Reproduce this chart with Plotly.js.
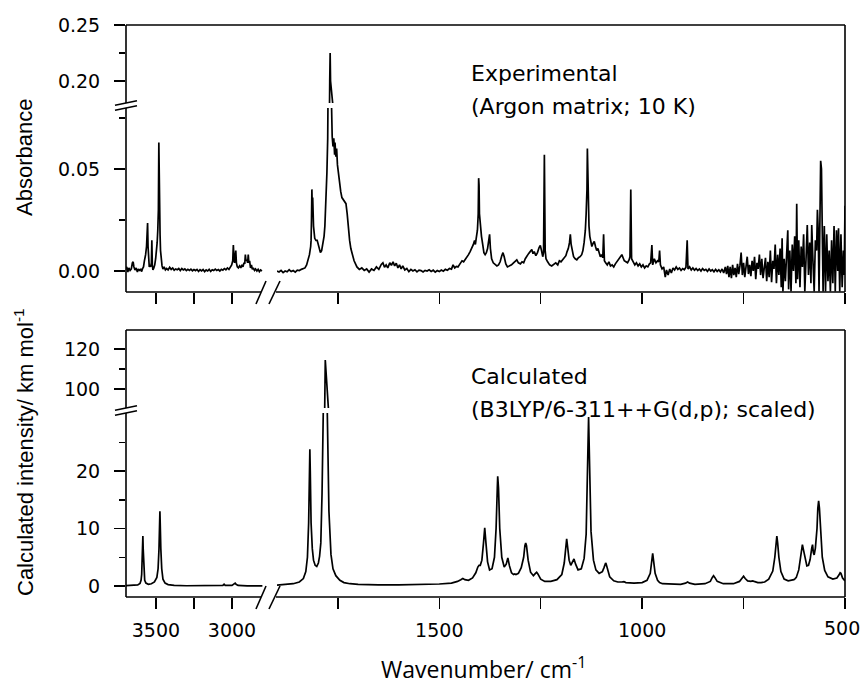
<!DOCTYPE html>
<html>
<head>
<meta charset="utf-8">
<script src="https://cdn.plot.ly/plotly-3.0.1.min.js"></script>
<style>html,body{margin:0;padding:0;background:#fff;}#plot{width:861px;height:686px;}</style>
</head>
<body>
<div id="plot"></div>
<script>
// ---------- DATA (wavenumber, value) ----------
const expLeftPts = [
[3700,0.0010],[3692,0.0020],[3685,-0.0005],[3678,0.0015],[3670,0.0003],[3662,0.0010],[3655,0.0040],[3650,0.0045],
[3645,0.0020],[3638,0.0005],[3630,0.0015],[3622,-0.0005],[3615,0.0010],[3608,0.0003],[3600,0.0008],[3594,-0.0003],
[3588,0.0012],[3582,0.0020],[3576,0.0050],[3572,0.0060],[3568,0.0080],[3562,0.0120],[3558,0.0180],[3555,0.0235],
[3552,0.0120],[3548,0.0040],[3544,0.0020],[3540,0.0030],[3535,0.0020],[3530,0.0040],[3527,0.0150],[3524,0.0030],
[3520,0.0005],[3514,0.0015],[3508,0.0030],[3502,0.0060],[3496,0.0100],[3492,0.0140],[3488,0.0200],[3484,0.0300],
[3481,0.0630],[3479,0.0350],[3476,0.0260],[3473,0.0180],[3470,0.0100],[3466,0.0050],[3460,0.0025],[3454,0.0010],
[3446,0.0020],[3438,0.0005],[3430,0.0012],[3420,0.0005],[3410,0.0018],[3400,0.0008],[3390,0.0015],[3380,0.0004],
[3370,0.0010],[3360,0.0006],[3350,0.0012],[3340,0.0002],[3330,0.0012],[3320,0.0005],[3310,0.0010],[3300,0.0002],
[3290,0.0008],[3280,0.0003],[3270,0.0009],[3260,0.0001],[3250,0.0007],[3240,0.0002],[3230,0.0008],[3220,-0.0002],
[3210,0.0006],[3200,0.0000],[3190,0.0007],[3180,-0.0003],[3170,0.0005],[3160,0.0000],[3150,0.0008],[3140,-0.0002],
[3130,0.0006],[3120,0.0002],[3110,0.0009],[3100,0.0003],[3090,0.0007],[3080,0.0000],[3070,0.0008],[3060,0.0004],
[3050,0.0012],[3040,0.0006],[3030,0.0015],[3020,0.0008],[3010,0.0020],[3002,0.0030],[2995,0.0050],[2991,0.0127],
[2987,0.0060],[2983,0.0040],[2978,0.0080],[2975,0.0100],[2971,0.0040],[2965,0.0020],[2958,0.0015],[2950,0.0025],
[2942,0.0015],[2935,0.0030],[2928,0.0020],[2921,0.0040],[2916,0.0035],[2912,0.0080],[2908,0.0050],[2902,0.0055],
[2897,0.0040],[2893,0.0080],[2889,0.0040],[2884,0.0050],[2878,0.0015],[2872,0.0030],[2866,0.0008],[2860,0.0015],
[2852,0.0003],[2845,0.0010],[2836,0.0000],[2828,0.0008],[2820,-0.0003],[2812,0.0005],[2803,0.0000]
];
const expRightPts = [
[1900,0.0000],[1895,-0.0005],[1890,0.0003],[1885,-0.0008],[1880,0.0000],[1875,-0.0004],[1870,0.0006],[1865,-0.0003],
[1860,0.0002],[1855,-0.0006],[1850,0.0004],[1845,0.0002],[1840,0.0008],[1835,0.0012],[1831,0.0015],[1827,0.0030],
[1824,0.0050],[1820,0.0080],[1817,0.0120],[1816,0.0150],[1815,0.0250],[1814,0.0400],[1813,0.0300],[1812,0.0360],
[1810,0.0220],[1807,0.0160],[1804,0.0150],[1801,0.0150],[1797,0.0120],[1793,0.0090],[1790,0.0100],[1787,0.0130],
[1784,0.0170],[1782,0.0220],[1780,0.0300],[1778,0.0400],[1777,0.0480],[1775,0.0650],[1774,0.0780],[1773,0.0850],
[1771,0.1600],[1770,0.2000],[1769,0.2250],[1768,0.2000],[1767,0.1500],[1766,0.0850],[1765,0.0700],[1764,0.0660],
[1762,0.0610],[1760,0.0650],[1758,0.0570],[1757,0.0630],[1755,0.0560],[1753,0.0600],[1751,0.0520],[1749,0.0480],
[1746,0.0440],[1743,0.0390],[1740,0.0360],[1737,0.0350],[1734,0.0340],[1730,0.0330],[1727,0.0280],[1725,0.0220],
[1721,0.0150],[1718,0.0110],[1715,0.0090],[1710,0.0050],[1703,0.0020],[1697,0.0008],[1691,0.0015],[1685,0.0003],
[1679,0.0010],[1673,-0.0005],[1667,0.0010],[1661,0.0003],[1655,0.0020],[1649,0.0008],[1643,0.0032],[1639,0.0040],
[1635,0.0018],[1631,0.0030],[1627,0.0015],[1622,0.0040],[1618,0.0028],[1614,0.0045],[1610,0.0025],[1606,0.0038],
[1602,0.0015],[1598,0.0030],[1594,0.0010],[1590,0.0025],[1585,0.0005],[1580,0.0012],[1575,-0.0003],[1570,0.0008],
[1565,0.0000],[1560,0.0006],[1555,-0.0004],[1550,0.0004],[1545,0.0002],[1540,-0.0005],[1535,0.0003],[1530,0.0000],
[1525,0.0006],[1520,-0.0002],[1515,0.0004],[1510,-0.0006],[1505,0.0002],[1500,-0.0003],[1495,0.0005],[1490,-0.0001],
[1485,0.0008],[1480,0.0004],[1475,0.0012],[1470,0.0009],[1466,0.0030],[1462,0.0015],[1458,0.0022],[1454,0.0020],
[1449,0.0035],[1444,0.0050],[1440,0.0045],[1434,0.0060],[1428,0.0080],[1424,0.0095],[1420,0.0110],[1416,0.0130],
[1413,0.0150],[1411,0.0130],[1409,0.0160],[1406,0.0200],[1404,0.0280],[1403,0.0455],[1402,0.0420],[1401,0.0280],
[1400,0.0250],[1398,0.0190],[1396,0.0170],[1393,0.0130],[1390,0.0090],[1387,0.0080],[1384,0.0090],[1381,0.0110],
[1378,0.0150],[1376,0.0180],[1374,0.0110],[1371,0.0060],[1367,0.0040],[1362,0.0030],[1358,0.0025],[1354,0.0030],
[1350,0.0045],[1346,0.0075],[1343,0.0090],[1340,0.0070],[1336,0.0035],[1332,0.0020],[1327,0.0025],[1322,0.0030],
[1317,0.0040],[1312,0.0050],[1309,0.0055],[1305,0.0040],[1300,0.0035],[1296,0.0045],[1292,0.0040],[1288,0.0060],
[1284,0.0075],[1280,0.0085],[1276,0.0095],[1272,0.0105],[1269,0.0085],[1266,0.0095],[1262,0.0075],[1258,0.0090],
[1254,0.0115],[1251,0.0125],[1248,0.0100],[1245,0.0070],[1243,0.0090],[1241,0.0570],[1239,0.0100],[1237,0.0060],
[1233,0.0045],[1228,0.0030],[1223,0.0025],[1218,0.0035],[1213,0.0040],[1208,0.0030],[1204,0.0050],[1200,0.0045],
[1196,0.0055],[1192,0.0060],[1188,0.0075],[1185,0.0095],[1182,0.0110],[1179,0.0140],[1177,0.0180],[1175,0.0130],
[1172,0.0090],[1169,0.0070],[1165,0.0060],[1161,0.0055],[1157,0.0065],[1153,0.0070],[1149,0.0080],[1146,0.0100],
[1143,0.0140],[1140,0.0200],[1138,0.0280],[1136,0.0400],[1135,0.0600],[1134,0.0500],[1133,0.0300],[1131,0.0220],
[1129,0.0170],[1127,0.0140],[1124,0.0120],[1121,0.0135],[1118,0.0145],[1115,0.0120],[1112,0.0100],[1109,0.0110],
[1106,0.0085],[1103,0.0070],[1100,0.0080],[1097,0.0065],[1095,0.0180],[1093,0.0050],[1090,0.0040],[1086,0.0030],
[1082,0.0045],[1078,0.0025],[1074,0.0030],[1070,0.0020],[1066,0.0035],[1062,0.0045],[1058,0.0060],[1054,0.0070],
[1050,0.0080],[1047,0.0065],[1044,0.0050],[1040,0.0045],[1036,0.0040],[1032,0.0055],[1030,0.0070],[1028,0.0400],
[1026,0.0060],[1022,0.0045],[1018,0.0030],[1014,0.0040],[1010,0.0025],[1006,0.0035],[1002,0.0020],[998,0.0030],
[994,0.0015],[990,0.0025],[986,0.0020],[982,0.0035],[979,0.0040],[976,0.0127],[974,0.0030],[970,0.0060],
[966,0.0040],[962,0.0050],[959,0.0045],[957,0.0100],[955,0.0030],[951,0.0010],[947,0.0020],[943,-0.0030],
[940,0.0005],[936,-0.0020],[932,0.0010],[928,-0.0010],[924,0.0015],[920,0.0005],[916,0.0020],[912,0.0008],
[908,0.0015],[904,0.0003],[900,0.0012],[896,0.0006],[892,0.0018],[889,0.0150],[887,0.0010],[883,0.0020],
[879,0.0005],[875,0.0015],[871,0.0004],[867,0.0012],[863,0.0002],[859,0.0010],[855,0.0000],[851,0.0012],
[847,0.0003],[843,0.0008],[839,-0.0002],[835,0.0010],[831,0.0000],[827,0.0006],[823,-0.0004],[819,0.0008],
[815,-0.0002],[811,0.0006],[807,-0.0005],[803,0.0010],[799,-0.0010],[795,0.0020],[792,-0.0015],[789,0.0025],
[786,-0.0030],[783,0.0020],[780,-0.0035],[777,0.0030],[774,-0.0020],[771,0.0015],[768,-0.0030],[765,0.0035],
[762,-0.0015],[759,0.0025],[756,0.0090],[753,-0.0020],[750,0.0040],[747,-0.0030],[744,0.0020],[741,0.0070],
[738,-0.0015],[735,0.0030],[732,-0.0025],[729,0.0050],[726,0.0000],[723,0.0070],[720,-0.0040],[717,0.0040],
[714,0.0010],[711,0.0080],[708,-0.0020],[705,0.0060],[702,-0.0035],[699,0.0030],[696,0.0065],[693,-0.0050],
[690,0.0045],[687,-0.0030],[684,0.0100],[681,-0.0055],[678,0.0050],[675,0.0010],[672,0.0130],[669,-0.0060],
[666,0.0080],[663,-0.0020],[660,0.0110],[657,-0.0080],[655,0.0160],[653,-0.0100],[650,0.0060],[647,-0.0050],
[644,0.0120],[641,0.0200],[639,-0.0090],[636,0.0100],[633,-0.0100],[630,0.0130],[627,0.0000],[624,0.0170],
[621,-0.0060],[619,0.0330],[617,-0.0040],[614,0.0150],[611,-0.0080],[608,0.0120],[605,0.0020],[602,0.0180],
[599,-0.0100],[596,0.0080],[593,0.0225],[590,-0.0020],[587,0.0140],[584,-0.0060],[582,0.0225],[579,0.0050],
[576,-0.0100],[573,0.0150],[570,0.0100],[568,0.0300],[566,0.0200],[564,-0.0100],[562,0.0400],[560,0.0540],
[558,0.0500],[556,0.0100],[554,-0.0100],[551,0.0220],[548,-0.0100],[545,0.0180],[542,-0.0050],[539,0.0100],
[536,-0.0100],[533,0.0150],[530,-0.0060],[527,0.0220],[524,-0.0100],[521,0.0200],[518,0.0000],[516,0.0210],
[513,-0.0100],[510,0.0180],[507,-0.0080],[504,0.0100],[502,-0.0020],[500,0.0320]
];
const calcLeftPts = [
[3700,0.05],[3650,0.1],[3620,0.2],[3605,0.45],[3598,1.0],[3594,2.0],[3590,4.3],[3588,6.5],[3586,8.7],[3584,6.5],
[3582,4.3],[3578,2.0],[3574,1.0],[3566,0.5],[3550,0.3],[3530,0.4],[3510,0.7],[3494,1.5],[3486,3.0],[3480,6.5],
[3476,11],[3474,13.0],[3472,11],[3468,6.5],[3462,3.0],[3454,1.2],[3440,0.5],[3420,0.25],[3380,0.12],[3300,0.05],
[3200,0.03],[3100,0.03],[3060,0.1],[3052,0.3],[3045,0.1],[3000,0.1],[2985,0.3],[2979,0.5],[2973,0.3],[2960,0.1],
[2900,0.03],[2800,0.02]
];
const calcRightPts = [
[1900,0.15],[1880,0.25],[1860,0.4],[1845,0.7],[1835,1.3],[1829,2.5],[1825,5.0],[1822,11],[1820,20],[1819,23.8],
[1818,20],[1816,11],[1813,6.5],[1810,4.5],[1806,3.6],[1802,3.4],[1798,4.0],[1795,5.2],[1792,7.5],[1789,16],
[1786,30],[1783,80],[1781,114.5],[1779,80],[1776,30],[1772,13],[1767,5.5],[1762,3.0],[1755,1.8],[1745,1.0],
[1735,0.6],[1720,0.4],[1700,0.3],[1680,0.25],[1650,0.2],[1600,0.2],[1550,0.25],[1500,0.35],[1470,0.5],[1455,0.8],
[1447,1.1],[1442,1.3],[1437,1.1],[1428,1.0],[1418,1.4],[1410,2.3],[1405,3.3],[1402,3.6],[1399,3.6],[1395,4.5],
[1391,7.5],[1388,10.1],[1385,7.5],[1381,4.2],[1376,2.8],[1370,3.0],[1364,5.0],[1360,10],[1357,17],[1356,19.1],
[1354,17],[1351,10],[1346,5.0],[1340,3.3],[1335,3.8],[1331,4.9],[1327,3.5],[1322,2.3],[1317,2.0],[1314,2.1],
[1311,2.0],[1305,2.2],[1298,3.2],[1292,5.0],[1289,7.0],[1287,7.5],[1285,7.0],[1281,4.5],[1275,2.4],[1268,1.8],
[1263,2.2],[1260,2.4],[1257,2.1],[1250,1.2],[1240,0.8],[1225,0.8],[1210,1.1],[1198,2.0],[1192,4.0],[1188,7.0],
[1186,8.2],[1184,7.0],[1180,4.5],[1176,3.6],[1172,4.2],[1168,4.7],[1164,3.8],[1158,2.8],[1150,3.0],[1143,4.8],
[1138,9],[1135,17],[1133,26],[1132,29.4],[1131,26],[1129,17],[1126,9.5],[1120,4.5],[1114,2.8],[1106,2.2],
[1098,2.5],[1094,3.2],[1091,3.9],[1090,4.0],[1089,3.9],[1086,3.1],[1080,1.6],[1070,0.9],[1060,0.7],[1050,0.7],
[1045,0.75],[1040,0.6],[1020,0.5],[1000,0.6],[988,1.0],[980,2.2],[976,4.5],[974,5.7],[972,4.5],[968,2.2],
[962,1.0],[957,0.6],[950,0.4],[930,0.3],[905,0.3],[893,0.5],[888,0.7],[883,0.5],[870,0.3],[845,0.4],
[832,0.8],[827,1.5],[824,1.8],[821,1.5],[815,0.8],[800,0.4],[775,0.4],[760,0.8],[754,1.4],[750,1.7],
[746,1.3],[740,0.9],[732,0.8],[728,0.9],[724,0.8],[715,0.6],[707,0.6],[703,0.6],[698,0.7],[688,1.2],
[678,2.6],[673,5.0],[670,7.5],[668,8.7],[666,7.5],[663,5.0],[658,2.5],[650,1.2],[640,0.9],[630,1.0],
[626,1.1],[624,1.2],[620,1.5],[614,2.8],[610,5.0],[607,6.8],[605,7.2],[603,6.5],[598,4.5],[594,3.5],
[590,3.6],[586,4.6],[582,6.6],[580,7.2],[578,5.8],[576,5.4],[573,6.6],[569,10],[567,13.5],[565,14.8],
[563,13.5],[560,9],[556,5.0],[550,2.7],[542,1.6],[530,1.2],[520,1.4],[515,1.9],[512,2.3],[510,2.2],
[506,1.4],[500,0.9]
];
// tick values / labels
const xLeftTicks = [3500, 3000], xLeftMinor = [3250];
const xRightTicks = [1500, 1000], xRightMinor = [1750, 1250, 750, 500];
const xEdgeLabel = '500';   // tick label at the right edge of the axis
const expLowTicks = [0, 0.05], expLowLabels = ['0.00', '0.05'], expLowMinor = [0.025, 0.075];
const expHighTicks = [0.20, 0.25], expHighLabels = ['0.20', '0.25'], expHighMinor = [0.225];
const calcLowTicks = [0, 10, 20], calcLowMinor = [5, 15, 25];
const calcHighTicks = [100, 120], calcHighMinor = [110];

// ---------- LAYOUT ----------
const W = 861, H = 686;
const px = v => v / W;
const py = v => 1 - v / H;
const tickFont = {family: 'DejaVu Sans', size: 19, color: '#000'};
const LW = 1.7;

function trace(pts, xa, ya) {
  return {x: pts.map(p => p[0]), y: pts.map(p => p[1]), xaxis: xa, yaxis: ya,
          type: 'scatter', mode: 'lines', line: {color: '#000', width: LW}, hoverinfo: 'skip'};
}
const data = [
  trace(expLeftPts, 'x', 'y'), trace(expLeftPts, 'x', 'y2'),
  trace(expRightPts, 'x2', 'y'), trace(expRightPts, 'x2', 'y2'),
  trace(calcLeftPts, 'x3', 'y3'), trace(calcLeftPts, 'x3', 'y4'),
  trace(calcRightPts, 'x4', 'y3'), trace(calcRightPts, 'x4', 'y4')
];

const common = {showgrid: false, zeroline: false, showline: false, ticks: 'outside',
  ticklen: 11, tickwidth: 1.5, tickcolor: '#000', tickfont: tickFont, fixedrange: true,
  tickmode: 'array', autorange: false, ticklabeloverflow: 'allow'};

function xAx(domain, range, anchor, vals, minorVals, show) {
  return Object.assign({}, common, {domain: domain, range: range, anchor: anchor,
    tickvals: vals, showticklabels: show, ticklabelstandoff: 5, tickformat: 'd',
    minor: {ticks: 'outside', ticklen: 11, tickwidth: 1.5, tickcolor: '#000',
            tickmode: 'array', tickvals: minorVals, showgrid: false}});
}
function yAx(domain, range, anchor, vals, labels, minorVals) {
  const a = Object.assign({}, common, {domain: domain, range: range, anchor: anchor,
    tickvals: vals, ticklabelstandoff: 10,
    minor: {ticks: 'outside', ticklen: 6, tickwidth: 1.5, tickcolor: '#000',
            tickmode: 'array', tickvals: minorVals, showgrid: false}});
  if (labels) a.ticktext = labels;
  return a;
}

const xLdom = [px(126), px(263)], xRdom = [px(277), px(845)];
const xLrange = [3697, 2796], xRrange = [1900, 500];

function seg(x0, y0, x1, y1, w) {
  return {type: 'line', xref: 'paper', yref: 'paper', x0: px(x0), y0: py(y0), x1: px(x1), y1: py(y1),
          line: {color: '#000', width: w || 1.6}};
}
function frame(top, bot, brkA, brkB) {
  return [
    seg(126, top, 845, top), seg(845, top, 845, bot),
    seg(126, top, 126, brkA), seg(126, brkB, 126, bot),
    seg(126, bot, 261, bot), seg(276, bot, 845, bot),
    seg(256, bot + 12, 266, bot - 11), seg(269, bot + 12, 280, bot - 11),
    seg(115, brkA + 2.2, 137, brkA - 2.2), seg(115, brkB + 2.2, 137, brkB - 2.2)
  ];
}

function ann(text, x, y, font, extra) {
  return Object.assign({text: text, x: px(x), y: py(y), xref: 'paper', yref: 'paper',
    showarrow: false, font: font, xanchor: 'left', yanchor: 'middle'}, extra || {});
}
const annFont = {family: 'DejaVu Sans', size: 22, color: '#000'};
const titleFont = {family: 'Liberation Sans, Arial', size: 22, color: '#000'};

const layout = {
  width: W, height: H, margin: {l: 0, r: 0, t: 0, b: 0},
  paper_bgcolor: '#fff', plot_bgcolor: 'rgba(0,0,0,0)', showlegend: false,
  xaxis: xAx(xLdom, xLrange, 'y', xLeftTicks, xLeftMinor, false),
  xaxis2: xAx(xRdom, xRrange, 'y', xRightTicks, xRightMinor, false),
  xaxis3: xAx(xLdom, xLrange, 'y3', xLeftTicks, xLeftMinor, true),
  xaxis4: xAx(xRdom, xRrange, 'y3', xRightTicks, xRightMinor, true),
  yaxis: yAx([py(292), py(108)], [-0.0103, 0.0799], 'x', expLowTicks, expLowLabels, expLowMinor),
  yaxis2: yAx([py(103), py(25)], [0.1804, 0.25], 'x', expHighTicks, expHighLabels, expHighMinor),
  yaxis3: yAx([py(597), py(413)], [-1.91, 30.09], 'x3', calcLowTicks, null, calcLowMinor),
  yaxis4: yAx([py(408), py(330)], [90.5, 129.5], 'x3', calcHighTicks, null, calcHighMinor),
  shapes: frame(25, 292, 103, 108).concat(frame(330, 597, 408, 413)),
  annotations: [
    ann('Experimental', 469, 74, annFont),
    ann('(Argon matrix; 10 K)', 469, 106.5, annFont),
    ann('Calculated', 469, 376.5, annFont),
    ann('(B3LYP/6-311++G(d,p); scaled)', 469, 409.5, annFont),
    ann('Absorbance', 24, 158, titleFont, {xanchor: 'center', textangle: -90}),
    ann('Calculated intensity/ km mol<sup>-1</sup>', 24, 452, titleFont, {xanchor: 'center', textangle: -90}),
    ann('Wavenumber/ cm<sup>-1</sup>', 483, 668, {family: 'Open Sans', size: 23, color: '#000'}, {xanchor: 'center'}),
    ann(xEdgeLabel, 861, 628, tickFont, {xanchor: 'right', borderpad: 0})
  ]
};

Plotly.newPlot('plot', data, layout, {displayModeBar: false, staticPlot: true});
</script>
</body>
</html>
